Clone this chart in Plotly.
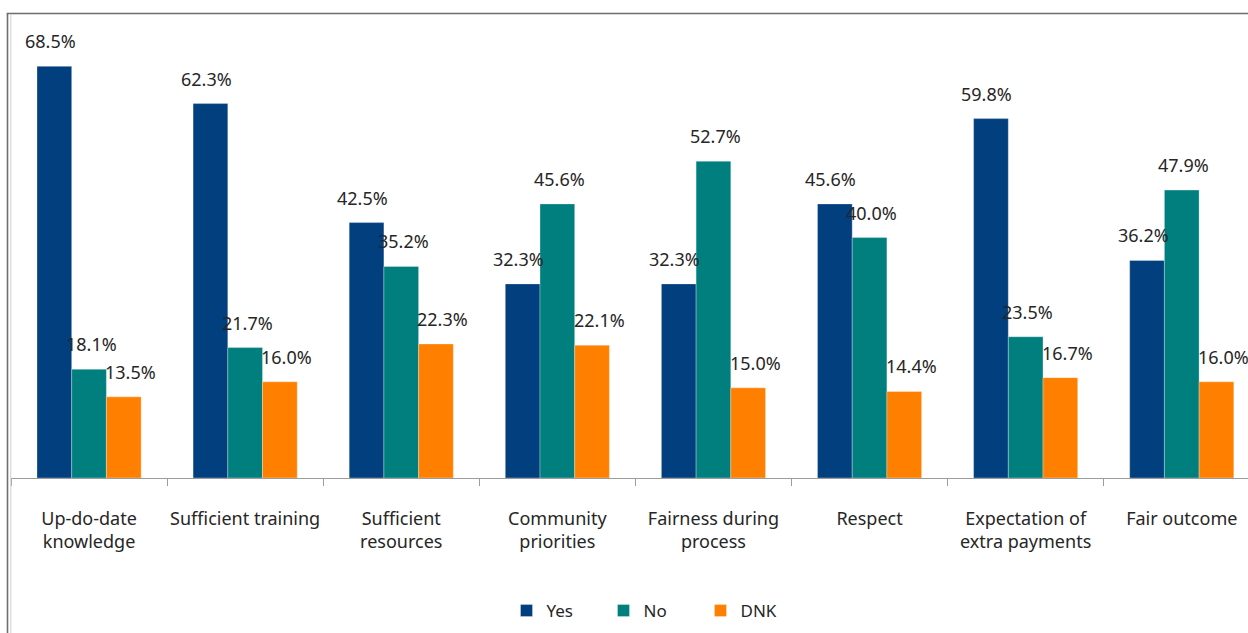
import plotly.graph_objects as go

# Survey results: share of respondents answering Yes / No / Don't know
categories = [
    "Up-do-date<br>knowledge",
    "Sufficient training",
    "Sufficient<br>resources",
    "Community<br>priorities",
    "Fairness during<br>process",
    "Respect",
    "Expectation of<br>extra payments",
    "Fair outcome",
]
yes_vals = [68.5, 62.3, 42.5, 32.3, 32.3, 45.6, 59.8, 36.2]
no_vals = [18.1, 21.7, 35.2, 45.6, 52.7, 40.0, 23.5, 47.9]
dnk_vals = [13.5, 16.0, 22.3, 22.1, 15.0, 14.4, 16.7, 16.0]
series_names = ["Yes", "No", "DNK"]

COLORS = ["#023F7E", "#007F7F", "#FF8000"]
FONT = "Noto Sans"
TEXT = "#262626"

W, H = 1248, 633
M_L, M_R, M_T, M_B = 11, 0, 20, 155
PLOT_W = W - M_L - M_R
PLOT_H = H - M_T - M_B
CAT_PX = 156.1                     # width of one category slot in pixels
BARGAP = 0.333
X_RANGE = [-0.5, -0.5 + PLOT_W / CAT_PX]
Y_RANGE = [0, PLOT_H / 6.01]
BAR_PX = CAT_PX * (1 - BARGAP) / 3
LABEL_NUDGE = [-4, 2, 7]           # small per-series horizontal nudge of value labels

fig = go.Figure()
series = [yes_vals, no_vals, dnk_vals]
for name, vals, color in zip(series_names, series, COLORS):
    fig.add_trace(go.Bar(
        name=name, x=categories, y=vals,
        marker=dict(color=color, line=dict(width=0.6, color="rgba(255,255,255,0.5)")),
        hoverinfo="x+y+name",
    ))

# value labels above each bar
annotations = []
for s, vals in enumerate(series):
    for cat, v in zip(categories, vals):
        annotations.append(dict(
            x=cat, y=v, xref="x", yref="y",
            text=f"{v:.1f}%", showarrow=False,
            xanchor="center", yanchor="bottom",
            xshift=(s - 1) * BAR_PX + LABEL_NUDGE[s], yshift=11,
            font=dict(family=FONT, size=18, color=TEXT),
        ))


def px_x(px):
    return (px - M_L) / PLOT_W


def px_y(py):
    return (H - M_B - py) / PLOT_H


# chart frame: dark outer edge plus a faint inner line on the left
shapes = [
    dict(type="line", xref="paper", yref="paper", x0=px_x(7.5), x1=px_x(7.5),
         y0=px_y(13.5), y1=px_y(660), line=dict(color="#6e6e6e", width=1.6)),
    dict(type="line", xref="paper", yref="paper", x0=px_x(6.7), x1=px_x(1270),
         y0=px_y(13.5), y1=px_y(13.5), line=dict(color="#6e6e6e", width=1.6)),
    dict(type="line", xref="paper", yref="paper", x0=px_x(10.8), x1=px_x(10.8),
         y0=px_y(15), y1=px_y(660), line=dict(color="#cfcfcf", width=1)),
]

fig.update_layout(
    width=W, height=H,
    margin=dict(l=M_L, r=M_R, t=M_T, b=M_B, pad=0, autoexpand=False),
    paper_bgcolor="white", plot_bgcolor="white",
    barmode="group", bargap=BARGAP, bargroupgap=0,
    font=dict(family=FONT, size=18, color=TEXT),
    showlegend=True,
    legend=dict(
        orientation="h", x=px_x(652), y=px_y(611),
        xanchor="center", yanchor="middle",
        font=dict(family=FONT, size=17, color=TEXT),
        entrywidth=52, entrywidthmode="pixels",
        itemclick=False, itemdoubleclick=False,
    ),
    xaxis=dict(
        range=X_RANGE, showgrid=False, zeroline=False,
        showline=True, linecolor="#9c9c9c", linewidth=1.3,
        ticks="outside", tickson="boundaries", ticklen=7,
        tickcolor="#9c9c9c", tickwidth=1.3,
        ticklabelstandoff=24, tickangle=0, automargin=False,
        tickfont=dict(family=FONT, size=18, color=TEXT),
        fixedrange=True,
    ),
    yaxis=dict(
        range=Y_RANGE, visible=False, showgrid=False, zeroline=False,
        fixedrange=True, automargin=False,
    ),
    annotations=annotations,
    shapes=shapes,
)

fig.write_html("out.html")
